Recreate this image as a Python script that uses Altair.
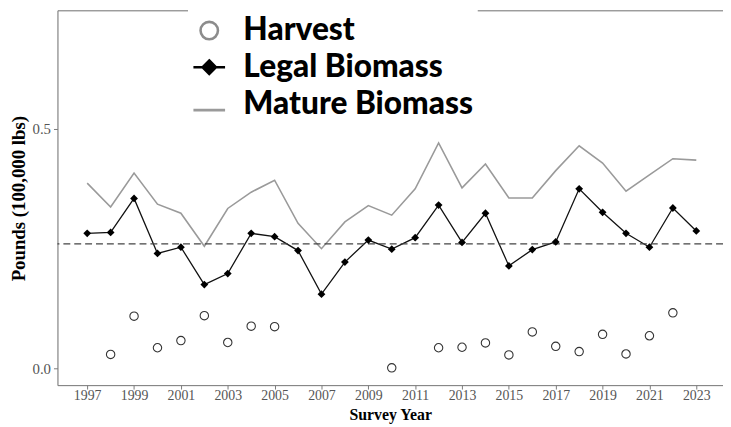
import altair as alt
import pandas as pd

# ---- data ----
years = list(range(1997, 2024))
legal_biomass = [0.282, 0.284, 0.355, 0.240, 0.253, 0.175, 0.198, 0.282, 0.275, 0.246,
                 0.155, 0.222, 0.268, 0.249, 0.273, 0.341, 0.263, 0.324, 0.214, 0.248,
                 0.264, 0.375, 0.326, 0.282, 0.253, 0.335, 0.287]
mature_biomass = [0.387, 0.337, 0.408, 0.343, 0.324, 0.255, 0.334, 0.368, 0.393, 0.303,
                  0.250, 0.306, 0.340, 0.320, 0.375, 0.471, 0.377, 0.427, 0.356, 0.356,
                  0.413, 0.465, 0.429, 0.370, 0.404, 0.438, 0.435]
harvest_years = [1998, 1999, 2000, 2001, 2002, 2003, 2004, 2005, 2010, 2012, 2013,
                 2014, 2015, 2016, 2017, 2018, 2019, 2020, 2021, 2022]
harvest = [0.029, 0.109, 0.043, 0.058, 0.110, 0.054, 0.088, 0.087, 0.001, 0.043, 0.044,
           0.053, 0.028, 0.076, 0.046, 0.035, 0.071, 0.030, 0.068, 0.116]
reference_level = [0.26]
series_names = ["Harvest", "Legal Biomass", "Mature Biomass"]
x_ticks = list(range(1997, 2024, 2))
y_ticks = [0.0, 0.5]

bio = pd.DataFrame({"year": years, "legal": legal_biomass, "mature": mature_biomass})
har = pd.DataFrame({"year": harvest_years, "harvest": harvest})
ref = pd.DataFrame({"level": reference_level})
leg = pd.DataFrame({"series": series_names})

SERIF = "Liberation Serif"
AXIS_GRAY = "#7a7a7a"

xscale = alt.Scale(domain=[1995.73, 2024.14], nice=False, zero=False)
yscale = alt.Scale(domain=[-0.0351, 0.748], nice=False, zero=False)

x_axis_bottom = alt.Axis(
    orient="bottom", values=x_ticks, format="d", title="Survey Year",
    labelFont=SERIF, labelFontSize=14, labelColor="#555555", labelPadding=0,
    tickSize=4, tickColor=AXIS_GRAY, domainColor=AXIS_GRAY, grid=False,
    titleFont=SERIF, titleFontSize=16, titleFontWeight="bold", titleColor="black",
    titleY=35, titleBaseline="alphabetic",
)
x_axis_top = alt.Axis(
    orient="top", labels=False, ticks=False, title=None, grid=False,
    domainColor=AXIS_GRAY,
)
y_axis = alt.Axis(
    values=y_ticks, format=".1f", title="Pounds (100,000 lbs)",
    labelFont=SERIF, labelFontSize=15, labelColor="#555555", labelPadding=3,
    tickSize=4, tickColor=AXIS_GRAY, domainColor=AXIS_GRAY, grid=False,
    titleFont=SERIF, titleFontSize=19, titleFontWeight="bold", titleColor="black",
    titleX=-33, titleY=190, titleBaseline="alphabetic",
)

mature_line = alt.Chart(bio).mark_line(color="#9a9a9a", strokeWidth=1.6).encode(
    x=alt.X("year:Q", scale=xscale, axis=x_axis_bottom),
    y=alt.Y("mature:Q", scale=yscale, axis=y_axis),
)
legal_line = alt.Chart(bio).mark_line(color="#111111", strokeWidth=1.3).encode(
    x=alt.X("year:Q", scale=xscale, axis=x_axis_top),
    y=alt.Y("legal:Q", scale=yscale, axis=y_axis),
)
legal_pts = alt.Chart(bio).mark_point(
    shape="diamond", filled=True, color="black", size=62, opacity=1
).encode(
    x=alt.X("year:Q", scale=xscale, axis=None),
    y=alt.Y("legal:Q", scale=yscale, axis=y_axis),
)
harvest_pts = alt.Chart(har).mark_point(
    shape="circle", filled=False, color="#333333", strokeWidth=1.1, size=72, opacity=1
).encode(
    x=alt.X("year:Q", scale=xscale, axis=None),
    y=alt.Y("harvest:Q", scale=yscale, axis=y_axis),
)
ref_rule = alt.Chart(ref).mark_rule(color="#444444", strokeWidth=1.5, strokeDash=[7, 4]).encode(
    y=alt.Y("level:Q", scale=yscale, axis=y_axis),
)

# legend-only layer: no marks drawn (filtered), legend built from the explicit domain
circle_path = "M-0.55,0A0.55,0.55 0 1,0 0.55,0A0.55,0.55 0 1,0 -0.55,0Z"
legal_path = "M-1,0L1,0M0,-0.42L0.42,0L0,0.42L-0.42,0Z"
mature_path = "M-1,0.4L1,0.4"

legend_def = alt.Legend(
    orient="none", legendX=132, legendY=-1, title=None,
    labelFont="Lato", labelFontSize=32, labelFontWeight=900, labelColor="black",
    labelOffset=17, symbolSize=1024, symbolStrokeWidth=2.6, rowPadding=3,
    symbolOpacity=1, padding=4, fillColor="white", zindex=2, labelLimit=400,
)
legend_layer = alt.Chart(leg).transform_filter("false").mark_point(filled=True, opacity=1).encode(
    shape=alt.Shape("series:N", scale=alt.Scale(domain=series_names,
                    range=[circle_path, legal_path, mature_path]), legend=legend_def),
    fill=alt.Fill("series:N", scale=alt.Scale(domain=series_names,
                  range=["transparent", "black", "transparent"]), legend=legend_def),
    stroke=alt.Stroke("series:N", scale=alt.Scale(domain=series_names,
                      range=["#8c8c8c", "black", "#9a9a9a"]), legend=legend_def),
)

chart = alt.layer(
    mature_line, legal_line, ref_rule, legal_pts, harvest_pts, legend_layer
).resolve_axis(x="independent").properties(
    width=673, height=379,
    autosize=alt.AutoSizeParams(type="none"),
    padding={"left": 50, "top": 0, "right": 0, "bottom": 39},
).configure_view(stroke=None).configure(background="white")

chart.save("out.html", embed_options={"renderer": "svg", "actions": False})
